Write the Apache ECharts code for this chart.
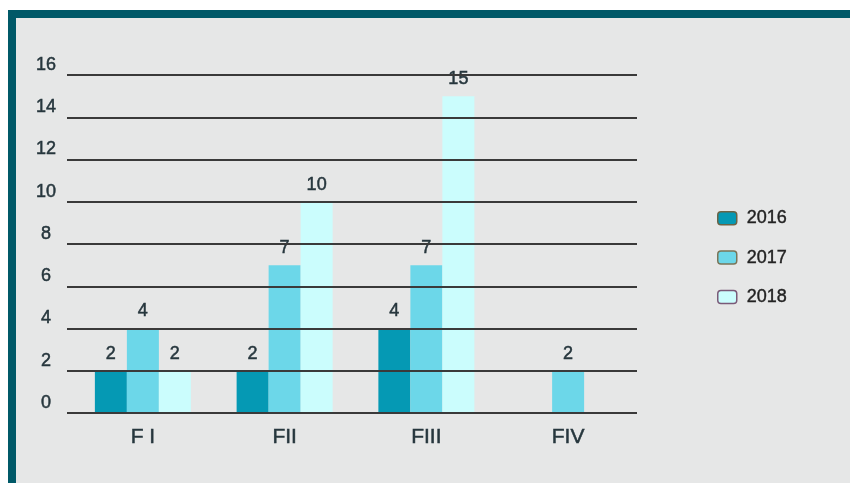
<!DOCTYPE html>
<html>
<head>
<meta charset="utf-8">
<script src="https://cdn.jsdelivr.net/npm/echarts@6/dist/echarts.min.js"></script>
<style>
  html, body { margin: 0; padding: 0; background: #fff; }
  #frame {
    position: absolute; left: 8px; top: 10px; width: 834px; height: 465px;
    border-top: 8px solid #005968; border-left: 8px solid #005968;
    background: #e6e7e7;
  }
  #chart { position: absolute; left: 0; top: 0; width: 850px; height: 483px; }
</style>
</head>
<body>
<div id="frame"></div>
<div id="chart"></div>
<script>
const categories = ['F I', 'FII', 'FIII', 'FIV'];
const years = ['2016', '2017', '2018'];
const values2016 = [2, 2, 4, null];
const values2017 = [4, 7, 7, 2];
const values2018 = [2, 10, 15, null];
const yTicks = { min: 0, max: 16, step: 2 };

const colors = ['#0599b4', '#6cd7e9', '#cbfdfd'];
const legendBorders = ['#6b6446', '#7a7558', '#7a5a78'];
const font = '"Liberation Sans", Arial, sans-serif';
const textColor = '#26363d';
// slight outline to get the heavier look of the original text
const heavy = { textBorderColor: textColor, textBorderWidth: 0.5 };

const chart = echarts.init(document.getElementById('chart'));

const series = [values2016, values2017, values2018].map((vals, i) => ({
  name: years[i],
  type: 'bar',
  xAxisIndex: 1,
  yAxisIndex: 1,
  data: vals,
  barWidth: 32,
  barGap: 0,
  z: 2,
  itemStyle: { color: colors[i] },
  label: Object.assign({
    show: true,
    position: 'top',
    distance: 8,
    fontFamily: font,
    fontSize: 18,
    color: textColor
  }, heavy)
}));

chart.setOption({
  backgroundColor: 'transparent',
  animation: false,
  grid: [
    { left: 67, right: 213, top: 75, bottom: 70 },  // gridlines + y labels
    { left: 72, right: 211, top: 75, bottom: 70 }   // bars
  ],
  legend: {
    orient: 'vertical',
    left: 717,
    top: 209,
    padding: 0,
    itemWidth: 19,
    itemHeight: 13,
    itemGap: 21,
    icon: 'roundRect',
    textStyle: { fontFamily: font, fontSize: 18, color: '#222', padding: [0, 0, 0, 5],
      textBorderColor: '#222', textBorderWidth: 0.4 },
    data: years.map((y, i) => ({
      name: y,
      itemStyle: { color: colors[i], borderColor: legendBorders[i], borderWidth: 1.5 }
    }))
  },
  xAxis: [
    { type: 'category', gridIndex: 0, data: categories, show: false },
    {
      type: 'category',
      gridIndex: 1,
      data: categories,
      axisLine: { show: false },
      axisTick: { show: false },
      axisLabel: Object.assign({ margin: 14, fontFamily: font, fontSize: 21, color: textColor }, heavy)
    }
  ],
  yAxis: [
    {
      type: 'value',
      gridIndex: 0,
      min: yTicks.min,
      max: yTicks.max,
      interval: yTicks.step,
      z: 3,
      axisLine: { show: false },
      axisTick: { show: false },
      splitLine: { lineStyle: { color: '#3a3a3a', width: 2 } },
      axisLabel: Object.assign({
        margin: 21,
        align: 'center',
        verticalAlign: 'bottom',
        padding: [0, 0, 1, 0],
        fontFamily: font,
        fontSize: 18,
        color: textColor
      }, heavy)
    },
    {
      type: 'value',
      gridIndex: 1,
      min: yTicks.min,
      max: yTicks.max,
      interval: yTicks.step,
      show: false,
      splitLine: { show: false }
    }
  ],
  series
});
</script>
</body>
</html>
